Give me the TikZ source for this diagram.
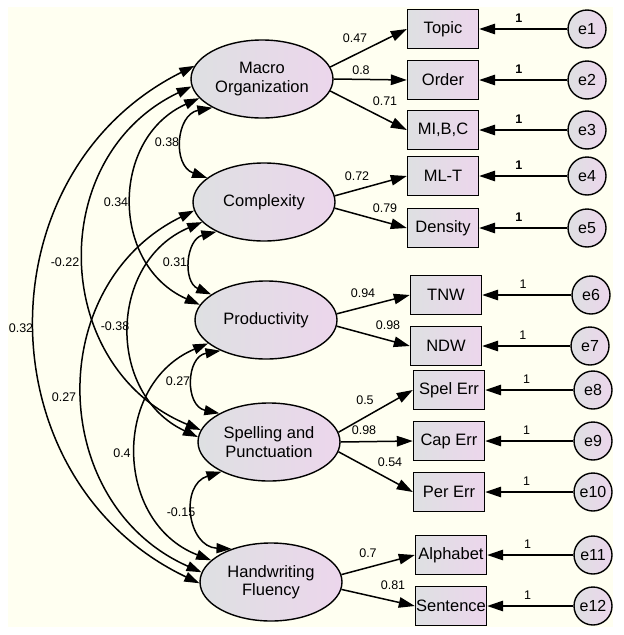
\documentclass[tikz,border=0pt]{standalone}
\usepackage{fontspec}
\setmainfont{Liberation Sans}
\usetikzlibrary{shapes.geometric,arrows.meta}

\definecolor{bgcream}{RGB}{255,255,241}
\definecolor{shadeleft}{RGB}{222,224,226}
\definecolor{shaderight}{RGB}{236,214,236}

\tikzset{
	latent/.style={ellipse, draw, line width=1.4pt, left color=shadeleft, right color=shaderight, minimum width=142pt, minimum height=78pt, inner sep=0pt, align=center, font=\fontsize{16.5}{18.5}\selectfont},
	observed/.style={rectangle, draw, line width=1.4pt, left color=shadeleft, right color=shaderight, minimum width=71pt, minimum height=39pt, inner sep=0pt, font=\fontsize{16.5}{18.5}\selectfont},
	errnode/.style={circle, draw, line width=1.4pt, left color=shadeleft, right color=shaderight, minimum size=38pt, inner sep=0pt, font=\fontsize{16}{18}\selectfont},
	loadarrow/.style={line width=1.5pt, -{Triangle[length=16pt,width=10.5pt]}},
	covarrow/.style={line width=1.5pt, {Triangle[length=15pt,width=10pt]}-{Triangle[length=15pt,width=10pt]}},
	coeflabel/.style={font=\fontsize{12.5}{14}\selectfont, inner sep=1pt},
}

\begin{document}
\begin{tikzpicture}[x=1pt, y=1pt]

	\useasboundingbox (0,0) rectangle (624,-635);
	\fill [bgcream] (8,-7) rectangle (613,-627);

	% latent factors
	\node [latent] (macro) at (262,-79) {Macro\\Organization};
	\node [latent] (complexity) at (264,-202) {Complexity};
	\node [latent] (productivity) at (266,-320) {Productivity};
	\node [latent] (spelling) at (269,-442) {Spelling and\\Punctuation};
	\node [latent] (handwriting) at (271,-582) {Handwriting\\Fluency};

	% indicators
	\node [observed] (topic) at (443,-29) {Topic};
	\node [observed] (order) at (443,-80) {Order};
	\node [observed] (mibc) at (443,-130) {MI,B,C};
	\node [observed] (mlt) at (443,-176) {ML-T};
	\node [observed] (density) at (443,-228) {Density};
	\node [observed] (tnw) at (446,-295) {TNW};
	\node [observed] (ndw) at (446,-346) {NDW};
	\node [observed] (spel) at (449,-390) {Spel Err};
	\node [observed] (cap) at (449,-441) {Cap Err};
	\node [observed] (per) at (449,-492) {Per Err};
	\node [observed] (alphabet) at (451,-555) {Alphabet};
	\node [observed] (sentence) at (451,-606) {Sentence};

	% errors
	\node [errnode] (e1) at (587,-29) {e1};
	\node [errnode] (e2) at (587,-80) {e2};
	\node [errnode] (e3) at (587,-130) {e3};
	\node [errnode] (e4) at (587,-176) {e4};
	\node [errnode] (e5) at (587,-228) {e5};
	\node [errnode] (e6) at (591,-295) {e6};
	\node [errnode] (e7) at (590,-346) {e7};
	\node [errnode] (e8) at (593,-390) {e8};
	\node [errnode] (e9) at (593,-441) {e9};
	\node [errnode] (e10) at (593,-492) {e10};
	\node [errnode] (e11) at (593,-555) {e11};
	\node [errnode] (e12) at (593,-606) {e12};

	\draw [loadarrow] (e1) -- (topic.east) node [coeflabel, pos=0.55, above=5pt] {\bfseries 1};
	\draw [loadarrow] (e2) -- (order.east) node [coeflabel, pos=0.55, above=5pt] {\bfseries 1};
	\draw [loadarrow] (e3) -- (mibc.east) node [coeflabel, pos=0.55, above=5pt] {\bfseries 1};
	\draw [loadarrow] (e4) -- (mlt.east) node [coeflabel, pos=0.55, above=5pt] {\bfseries 1};
	\draw [loadarrow] (e5) -- (density.east) node [coeflabel, pos=0.55, above=5pt] {\bfseries 1};
	\draw [loadarrow] (e6) -- (tnw.east) node [coeflabel, pos=0.54, above=5pt] {1};
	\draw [loadarrow] (e7) -- (ndw.east) node [coeflabel, pos=0.54, above=5pt] {1};
	\draw [loadarrow] (e8) -- (spel.east) node [coeflabel, pos=0.53, above=5pt] {1};
	\draw [loadarrow] (e9) -- (cap.east) node [coeflabel, pos=0.53, above=5pt] {1};
	\draw [loadarrow] (e10) -- (per.east) node [coeflabel, pos=0.53, above=5pt] {1};
	\draw [loadarrow] (e11) -- (alphabet.east) node [coeflabel, pos=0.53, above=5pt] {1};
	\draw [loadarrow] (e12) -- (sentence.east) node [coeflabel, pos=0.53, above=5pt] {1};

	% loadings
	\draw [loadarrow] (macro.10) -- (topic.west);
	\draw [loadarrow] (macro.0) -- (order.west);
	\draw [loadarrow] (macro.-10) -- (mibc.west);
	\draw [loadarrow] (complexity.5) -- (mlt.west);
	\draw [loadarrow] (complexity.-5) -- (density.west);
	\draw [loadarrow] (productivity.5) -- (tnw.west);
	\draw [loadarrow] (productivity.-5) -- (ndw.west);
	\draw [loadarrow] (spelling.8) -- (spel.west);
	\draw [loadarrow] (spelling.0) -- (cap.west);
	\draw [loadarrow] (spelling.-8) -- (per.west);
	\draw [loadarrow] (handwriting.6) -- (alphabet.west);
	\draw [loadarrow] (handwriting.-6) -- (sentence.west);

	\node [coeflabel] (w1) at (355,-38) {0.47};
	\node [coeflabel] (w2) at (361,-70) {0.8};
	\node [coeflabel] (w3) at (385,-101) {0.71};
	\node [coeflabel] (w4) at (357,-176) {0.72};
	\node [coeflabel] (w5) at (385,-208) {0.79};
	\node [coeflabel] (w6) at (363,-293) {0.94};
	\node [coeflabel] (w7) at (388,-325) {0.98};
	\node [coeflabel] (w8) at (365,-400) {0.5};
	\node [coeflabel] (w9) at (364,-430) {0.98};
	\node [coeflabel] (w10) at (390,-462) {0.54};
	\node [coeflabel] (w11) at (368,-553) {0.7};
	\node [coeflabel] (w12) at (393,-585) {0.81};

	% correlations
	\draw [covarrow] (macro.169) to [bend right=64, looseness=1.18] (handwriting.181);
	\draw [covarrow] (macro.186) to [bend right=66, looseness=1.21] (spelling.170);
	\draw [covarrow] (macro.197) to [bend right=66, looseness=1.21] (productivity.167);
	\draw [covarrow] (macro.210) to [bend right=75, looseness=1.35] (complexity.157);
	\draw [covarrow] (complexity.187) to [bend right=65, looseness=1.19] (handwriting.172);
	\draw [covarrow] (complexity.198) to [bend right=66, looseness=1.21] (spelling.176);
	\draw [covarrow] (complexity.212) to [bend right=71, looseness=1.28] (productivity.155);
	\draw [covarrow] (productivity.202) to [bend right=68, looseness=1.23] (handwriting.160);
	\draw [covarrow] (productivity.214) to [bend right=79, looseness=1.44] (spelling.150);
	\draw [covarrow] (spelling.212) to [bend right=80, looseness=1.45] (handwriting.140);

	\node [coeflabel] (r1) at (167,-142) {0.38};
	\node [coeflabel] (r2) at (116,-202) {0.34};
	\node [coeflabel] (r3) at (65,-262) {-0.22};
	\node [coeflabel] (r4) at (21,-328) {0.32};
	\node [coeflabel] (r5) at (175,-262) {0.31};
	\node [coeflabel] (r6) at (115,-326) {-0.38};
	\node [coeflabel] (r7) at (64,-397) {0.27};
	\node [coeflabel] (r8) at (178,-381) {0.27};
	\node [coeflabel] (r9) at (122,-453) {0.4};
	\node [coeflabel] (r10) at (181,-512) {-0.15};

\end{tikzpicture}
\end{document}
